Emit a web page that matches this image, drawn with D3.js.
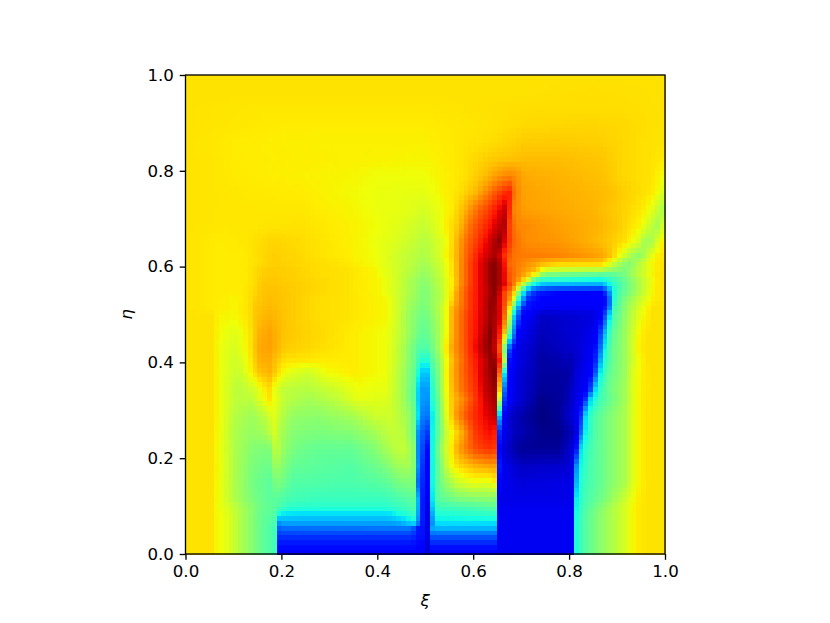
<!DOCTYPE html>
<html><head><meta charset="utf-8">
<script src="https://cdn.jsdelivr.net/npm/d3@7"></script>
<style>
html,body{margin:0;padding:0;background:#fff}
svg{display:block}
text{font-family:"DejaVu Sans",sans-serif}
</style></head><body>
<svg id="chart" width="830" height="623"></svg>
<script>
// Field value (0-100 on the jet scale).
// Each eta level has a profile written as flat pairs: xi in thousandths, value.
const etaLevels = [0,.012,.026,.04,.055,.067,.081,.099,.116,.15,.185,.22,.255,.29,.325,.345,.38,.405,.43,.46,.5,.514,.531,.549,.5625,.576,.587,.597,.608,.625,.653,.688,.722,.757,.79,.826,.861,.896,.93,.965,1];
const etaProfiles = [
[0,67,55,67,65,65,90,62,130,53,160,47,185,43,187,12,190,10,480,10,486,11,497,11,500,8,510,8,512,10,645,10,655,10,800,10,811,10,813,38,830,44,860,51,895,57,925,63,940,66,960,67,1000,67],
[0,67,55,67,65,65,90,62,130,53,160,47,185,43,187,13,190,13,480,13,486,12,497,12,500,8,510,8,512,13,645,13,652,10,800,10,811,10,813,38,830,44,860,51,895,57,925,63,940,66,960,67,1000,67],
[0,67,55,67,65,65,90,62,130,53,160,47,185,43,187,15,210,15,470,15,486,13,497,13,500,8,510,8,512,17,645,17,652,10,800,10,811,10,813,38,830,44,860,51,895,57,925,63,940,66,960,67,1000,67],
[0,67,55,67,65,65,90,62,130,53,160,47,185,43,187,17,205,18,470,18,486,14,497,14,500,9,510,9,512,22,645,22,652,10,800,10,811,10,813,38,830,44,860,51,895,57,925,63,940,66,960,67,1000,67],
[0,67,55,67,65,65,90,62,130,53,160,47,185,43,187,19,200,23,470,24,486,14,497,14,500,9,510,9,512,28,520,30,645,30,649,12,652,10,800,10,811,10,813,38,830,44,860,51,895,57,925,63,940,66,960,67,1000,67],
[0,67,55,67,65,65,90,62,130,53,160,47,185,44,187,24,200,29,440,29,470,34,484,37,486,15,497,15,500,9,510,9,513,24,522,35,645,35,649,12,652,10,800,10,811,10,813,38,830,44,860,51,895,57,925,63,940,66,960,67,1000,67],
[0,67,55,67,65,65,90,62,130,53,160,47,185,45,187,37,205,34,240,33,420,33,450,37,484,42,486,15,497,15,500,9,510,9,513,27,525,38,645,40,649,12,652,10,800,10,811,10,813,37,830,44,860,51,895,57,925,63,940,66,960,67,1000,67],
[0,67,55,67,67,64,90,61,130,53,160,48,185,46,190,45,215,41,240,40,417,40,450,42,484,45,486,15,497,15,500,9,510,9,513,30,523,42,600,44,645,46,648,12,655,10,800,10,811,10,813,36,830,43,860,50,895,57,925,63,940,66,960,67,1000,67],
[0,67,55,67,69,64,104,56,139,50,174,46,188,46,198,45,222,43,278,42,417,42,472,46,484,46,486,15,497,15,500,10,510,10,513,33,523,45,569,50,639,52,647,50,649,12,655,9,800,9,813,10,815,36,833,43,875,50,905,57,930,63,945,66,965,67,1000,67],
[0,67,56,67,69,64,104,56,139,49,177,46,188,50,198,50,222,45,347,44,417,46,451,50,479,50,486,18,497,16,500,11,510,11,513,35,523,45,535,50,569,60,604,63,632,62,646,65,649,45,651,20,656,10,700,8,800,9,809,9,813,20,816,36,833,42,882,50,917,56,937,63,951,66,968,67,1000,67],
[0,67,56,67,71,64,104,56,139,50,174,48,189,55,200,52,225,47,347,45,410,49,440,54,465,55,482,48,486,20,497,17,500,12,510,12,513,35,523,45,535,52,552,63,569,68,604,72,632,74,645,74,649,65,652,20,658,10,700,6,800,7,806,9,811,12,816,30,826,38,840,43,882,50,917,56,937,63,951,66,970,67,1000,67],
[0,67,56,67,73,63,104,56,139,51,174,50,189,60,201,54,229,49,278,47,347,47,396,51,431,57,458,59,479,50,486,22,497,19,500,13,510,13,513,35,523,46,535,55,545,60,556,67,569,74,604,83,632,86,645,85,650,60,652,15,660,8,700,2,778,2,800,6,808,9,814,11,820,30,828,38,847,44,882,50,917,56,937,63,951,66,970,67,1000,67],
[0,67,56,67,75,63,104,56,139,53,167,55,184,61,198,56,225,51,278,50,347,51,396,55,431,59,458,57,479,47,486,24,497,21,500,18,510,18,513,35,523,44,535,52,549,62,569,70,604,85,632,90,646,88,650,65,652,30,656,12,680,6,743,1,778,1,806,5,817,10,823,18,830,34,854,45,882,50,917,56,937,63,951,66,970,67,1000,67],
[0,67,56,67,76,63,104,57,139,54,167,58,182,63,198,58,222,53,278,52,347,55,396,60,431,60,465,54,483,44,487,27,497,25,505,24,514,35,521,42,531,50,542,60,549,65,562,74,583,82,604,87,632,92,646,94,649,68,654,35,660,12,674,7,708,3,743,0,778,2,806,8,820,11,826,18,833,33,850,44,882,50,917,56,937,63,951,66,970,67,1000,67],
[0,67,56,67,76,63,107,58,139,58,160,63,174,67,188,63,208,58,257,55,312,58,361,63,417,62,451,56,479,45,486,31,497,27,505,27,510,37,521,43,531,52,542,61,556,70,583,78,604,85,625,93,646,97,652,78,658,40,667,12,694,8,743,1,792,3,815,9,830,12,838,20,845,33,861,42,889,48,917,55,937,63,951,66,972,67,1000,67],
[0,67,56,67,76,63,111,57,146,61,174,68,188,62,208,58,257,57,312,60,361,64,417,63,451,56,479,45,486,32,497,27,505,28,512,38,521,44,531,53,542,62,556,71,576,79,604,86,625,94,646,98,653,80,660,42,668,12,694,8,743,2,792,3,812,8,836,11,846,20,853,33,866,42,885,48,917,55,937,63,953,66,972,67,1000,67],
[0,67,56,67,76,63,111,59,132,64,153,70,177,72,201,65,222,62,257,60,292,64,347,66,417,64,451,56,479,46,486,37,497,31,505,32,512,41,521,46,535,56,545,65,556,72,576,80,604,87,625,95,646,100,654,85,662,50,670,13,694,8,743,3,800,3,816,8,846,11,856,22,864,36,882,46,917,54,937,63,955,66,975,67,1000,67],
[0,67,56,67,76,63,107,60,132,65,153,72,174,73,208,67,278,66,347,66,417,64,451,57,479,47,486,42,497,38,505,39,510,43,528,52,542,62,556,71,569,77,590,84,618,92,640,100,652,95,660,78,668,45,675,14,694,9,743,3,806,5,830,9,851,11,860,22,870,37,889,47,917,54,944,64,962,67,1000,67],
[0,67,56,67,76,63,104,61,132,66,153,73,174,74,208,69.5,278,67.5,347,66,417,64,451,57,479,47,490,44,507,45,510,46,528,55,542,64,552,72,569,78,590,85,604,90,632,100,649,92,660,72,667,40,677,15,694,9,743,4,812,7,845,10,860,16,869,30,878,40,889,47,917,54,944,65,958,67,1000,67],
[0,67,56,67,76,64,104,62,132,66,153,72,174,74,208,70,278,68,347,66,417,64,451,58,483,49,500,46,528,55,545,64,556,72,569,78,590,85,611,91,636,100,652,93,663,76,672,50,681,30,694,11,743,5,830,8,858,11,870,25,880,38,890,46,917,54,946,65,962,67,1000,67],
[0,67,56,67,72,65,104,65,132,67,146,70,174,72,222,69.5,278,67.5,333,67,417,65,444,60,472,52,500,48,528,56,545,64,556,72,569,78,590,85,618,92,639,99,656,92,667,78,674,62,684,35,701,13,743,6,847,8,868,11,880,25,889,42,917,53,951,64,972,67,1000,67],
[0,67,69,66,104,65,132,67,146,70,174,71.5,222,69.5,278,67.5,333,67,417,65,444,60,472,53,500,49,528,57,545,64,556,72,569,77,590,84,618,92,640,100,658,90,669,77,677,62,688,36,705,15,750,10,850,10,872,12,885,26,892,42,917,52,951,63,972,67,1000,67],
[0,67,69,66,104,65,132,67,146,69.5,174,71,222,69.5,278,67.5,333,67,417,65,444,60,472,54,500,50,535,58,552,66,569,76,590,84,618,92,642,100,660,88,674,76,684,62,694,40,712,15,750,11,868,11,878,13,888,26,896,42,917,51,955,62,975,66,1000,67],
[0,67,69,66,118,66,139,67.5,160,70,181,70.5,222,69.5,278,68,333,67,403,65,444,60,472,55,500,50,535,58,556,67,569,76,590,84,618,92,649,100,663,85,681,75,691,62,701,42,715,25,729,16,778,13,868,12,882,22,889,35,903,44,931,51,958,60,979,66,1000,67],
[0,67,69,66,118,66,139,67,160,70,181,70,222,69.5,278,68,333,67,403,65,444,60,472,55,500,51,535,59,559,67,573,76,594,84,618,92,642,100,660,95,674,85,690,74,701,60,710,48,725,35,750,29,868,28,885,36,910,45,931,51,958,60,979,66,1000,67],
[0,67,69,66,118,66,139,67,160,69.5,181,70,222,69,278,68,333,67,403,65,444,60,472,55,500,52,535,59,559,67,573,76,594,84,618,92,642,100,660,95,674,82,694,76,712,66,725,50,743,42,868,38,889,42,917,48,944,56,972,64,990,67,1000,67],
[0,67,69,66,118,66,139,67,160,69,181,69.5,222,69,278,67.5,333,67,396,65,444,60,500,53,535,60,559,68,573,76,594,84,618,92,642,100,660,95,674,82,708,74,729,68,750,52,868,48,889,47,917,50,944,58,972,65,990,67,1000,67],
[0,67,69,66,118,66,139,67,160,69,181,69.5,222,69,278,67.5,333,67,396,65,444,60,500,54,535,60,559,68,573,76,594,84,618,92,642,100,660,95,674,81,708,75,729,72,750,64,778,62,868,60,889,55,917,50,944,57,972,64,990,67,1000,67],
[0,67,69,66,118,66,146,67,181,69,222,68.5,278,67.5,333,66.5,396,64,444,60,500,55,535,61,559,68,573,76,594,84,618,92,642,100,660,94,674,80,708,76,750,72,778,70,868,70,882,65,903,56,924,50,944,56,965,63,979,66,1000,67],
[0,67,69,66,122,66,139,67,181,69,222,68.5,278,67,333,66,396,64,444,60,500,56,535,62,559,69,576,77,597,84,618,91,649,97,667,85,681,79,708,78,778,77,861,74,889,70,910,62,931,55,948,52,965,60,979,65,1000,67],
[0,67,69,66,125,66.5,181,68.5,250,67.5,347,65.5,389,64,451,61,500,57,542,63,562,70,580,78,604,84,625,90,656,99,670,88,681,81,708,76,778,75,847,72,882,70,917,67,944,62,958,54,972,55,986,62,1000,67],
[0,67,69,66.5,139,66.5,243,67,347,65.5,403,64,451,62,500,59,535,64,569,70,590,78,618,85,640,90,664,97,675,84,690,77,778,74,861,72,903,69.5,924,67.5,951,65,972,58,986,55,1000,62],
[0,67,83,66.5,243,66.5,347,65,403,63.5,451,63,500,61,556,66,583,72,611,80,639,86,667,94,677,85,684,77,708,74,778,73,847,72,917,68.5,951,66.5,979,62,993,56,1000,56],
[0,67,83,66.5,243,66,347,64.5,403,63.5,451,63,500,63,569,67,604,71,632,78,660,85,677,88,684,80,701,74,778,72.5,882,71,917,69,972,66.5,993,63,1000,60],
[0,67,69,66.5,139,66,347,65,403,64,500,64,583,67,625,71,660,76,681,77,708,73,778,72,868,70.5,917,68,972,67,1000,64],
[0,67,69,66.5,104,66,347,65.5,500,65,569,66.5,639,69.5,708,71,778,71,868,70,917,68,972,67,1000,66],
[0,67,104,66,278,65.5,382,65.5,500,65.5,639,67.5,708,69.5,778,69.5,868,69,917,68,972,67,1000,67],
[0,67,104,66.5,208,66,347,66,500,66,639,67,708,68,847,68.5,917,68,986,67,1000,67],
[0,67,139,66.5,347,66.5,500,66.5,708,67.5,847,67.5,917,67.5,1000,67],
[0,67,208,67,500,67,708,67,847,67.5,1000,67],
[0,67,1000,67]
];
const tickValues = [0,0.2,0.4,0.6,0.8,1.0];
const xLabel = "ξ", yLabel = "η";
const cellCount = 100;

// Jet colour map as piecewise linear channels.
const jetR = d3.scaleLinear().domain([0,35,66,89,100]).range([0,0,255,255,128]).clamp(true);
const jetG = d3.scaleLinear().domain([0,12.5,37.5,64,91,100]).range([0,0,255,255,0,0]).clamp(true);
const jetB = d3.scaleLinear().domain([0,11,34,65,100]).range([128,255,255,0,0]).clamp(true);
const jet = v => `rgb(${Math.round(jetR(v))},${Math.round(jetG(v))},${Math.round(jetB(v))})`;

const rowScales = etaProfiles.map(p => {
  const xs = [], vs = [];
  for (let i = 0; i < p.length; i += 2) { xs.push(p[i] / 1000); vs.push(p[i + 1]); }
  return d3.scaleLinear().domain(xs).range(vs).clamp(true);
});
const rowBisect = d3.bisector(d => d).right;
function field(xi, eta) {
  const k = Math.min(rowBisect(etaLevels, eta), etaLevels.length - 1);
  const t = (eta - etaLevels[k - 1]) / (etaLevels[k] - etaLevels[k - 1]);
  return rowScales[k - 1](xi) * (1 - t) + rowScales[k](xi) * t;
}

const svg = d3.select("#chart");
const x = d3.scaleLinear().domain([0, 1]).range([185.5, 665]);
const y = d3.scaleLinear().domain([0, 1]).range([554, 75]);

const cells = d3.range(cellCount).flatMap(j => d3.range(cellCount).map(i => ({i, j})));
svg.append("g").attr("shape-rendering", "crispEdges").selectAll("rect").data(cells).join("rect")
  .attr("x", d => x(d.i / cellCount))
  .attr("y", d => y((d.j + 1) / cellCount))
  .attr("width", x(1 / cellCount) - x(0) + 0.6)
  .attr("height", y(0) - y(1 / cellCount) + 0.6)
  .attr("fill", d => jet(field((d.i + .5) / cellCount, (d.j + .5) / cellCount)));

const fmt = d3.format(".1f");
const gx = svg.append("g").attr("transform", "translate(0,554)")
  .call(d3.axisBottom(x).tickValues(tickValues).tickFormat(fmt).tickSize(5.8).tickPadding(5.8));
const gy = svg.append("g").attr("transform", "translate(185.5,0)")
  .call(d3.axisLeft(y).tickValues(tickValues).tickFormat(fmt).tickSize(5.8).tickPadding(5.8));
[gx, gy].forEach(g => {
  g.select(".domain").remove();
  g.selectAll("text").attr("font-size", 16.67).attr("font-family", '"DejaVu Sans"').attr("fill", "#000");
  g.selectAll("line").attr("stroke", "#000").attr("stroke-width", 1.33);
});
svg.append("rect").attr("x", x(0)).attr("y", y(1)).attr("width", x(1) - x(0)).attr("height", y(0) - y(1))
  .attr("fill", "none").attr("stroke", "#000").attr("stroke-width", 1.33);

svg.append("text").attr("x", (x(0) + x(1)) / 2).attr("y", 606).attr("text-anchor", "middle")
  .attr("font-size", 16.67).attr("font-style", "italic").attr("font-family", '"DejaVu Sans"').text(xLabel);
svg.append("text").attr("transform", `translate(132,314.5) rotate(-90)`).attr("text-anchor", "middle")
  .attr("font-size", 16.67).attr("font-style", "italic").attr("font-family", '"DejaVu Sans"').text(yLabel);
</script>
</body></html>
